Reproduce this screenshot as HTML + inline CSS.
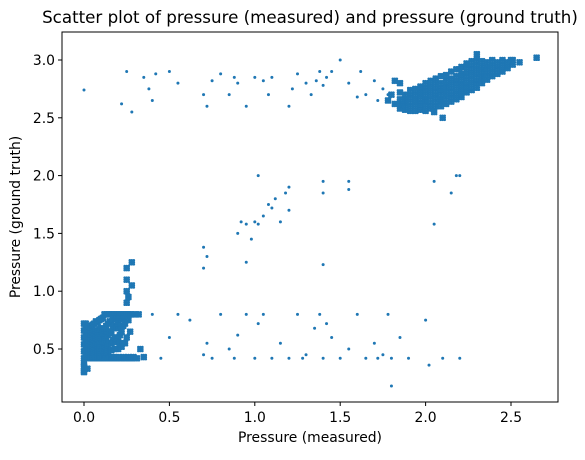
<!DOCTYPE html>
<html><head><meta charset="utf-8"><style>
body{margin:0;background:#fff;font-family:"Liberation Sans","DejaVu Sans",sans-serif}
</style></head><body>
<svg id="c" width="585" height="455" style="font-family:'DejaVu Sans','Liberation Sans',sans-serif"></svg>
<script>
const xTicks=[0,0.5,1,1.5,2,2.5];
const yTicks=[0.5,1.0,1.5,2.0,2.5,3.0];
const xTickLabels=["0.0","0.5","1.0","1.5","2.0","2.5"];
const yTickLabels=["0.5","1.0","1.5","2.0","2.5","3.0"];
const blobX=[0,0,0,0,0,0,0,0,0,0.01,0.01,0.01,0.01,0.01,0.01,0.01,0.02,0.02,0.02,0.02,0.02,0.02,0.03,0.03,0.03,0.03,0.03,0.03,0.04,0.04,0.04,0.04,0.04,0.04,0.05,0.05,0.05,0.05,0.05,0.05,0.06,0.06,0.06,0.06,0.06,0.06,0.07,0.07,0.07,0.07,0.07,0.07,0.08,0.08,0.08,0.08,0.08,0.08,0.09,0.09,0.09,0.09,0.09,0.09,0.1,0.1,0.1,0.1,0.1,0.1,0.11,0.11,0.11,0.11,0.11,0.12,0.12,0.12,0.12,0.12,0.13,0.13,0.13,0.13,0.13,0.14,0.14,0.14,0.14,0.14,0.15,0.15,0.15,0.15,0.15,0.16,0.16,0.16,0.16,0.16,0.17,0.17,0.17,0.17,0.18,0.18,0.18,0.18,0.19,0.19,0.19,0.19,0.2,0.2,0.2,0.2,0.21,0.21,0.21,0.22,0.22,0.22,0.23,0.23,0.23,0.24,0.24,0.25,0.25,0.26,0.26,0.27,0.27,0.28,0.28,0.29,0.3,0.31,0.32,0.25,0.25,0.25,0.25,0.25,0.28,0.28,0.26,0.33,0.35,0.02,0.0,0.12,0.14,0.16,0.18,0.2,0.22,0.24,0.17,0.19,0.21,0.23,0.2,0.22,0.24,0.26,0.21,0.25,0.27];
const blobY=[0.35,0.42,0.48,0.54,0.6,0.66,0.72,0.38,0.31,0.42,0.47,0.52,0.57,0.62,0.67,0.72,0.42,0.46,0.51,0.56,0.61,0.68,0.42,0.47,0.52,0.58,0.64,0.7,0.42,0.46,0.51,0.57,0.63,0.69,0.42,0.47,0.53,0.59,0.65,0.71,0.42,0.47,0.52,0.58,0.64,0.72,0.42,0.48,0.54,0.6,0.66,0.74,0.42,0.47,0.53,0.59,0.65,0.73,0.42,0.48,0.54,0.6,0.67,0.75,0.42,0.47,0.53,0.6,0.68,0.76,0.42,0.5,0.57,0.64,0.77,0.43,0.5,0.58,0.66,0.8,0.42,0.52,0.6,0.7,0.8,0.43,0.53,0.62,0.72,0.8,0.42,0.55,0.65,0.74,0.8,0.43,0.55,0.64,0.73,0.8,0.42,0.58,0.68,0.8,0.43,0.6,0.7,0.8,0.42,0.56,0.68,0.8,0.43,0.6,0.72,0.8,0.42,0.62,0.8,0.42,0.65,0.8,0.43,0.7,0.8,0.42,0.8,0.42,0.8,0.43,0.8,0.42,0.8,0.42,0.8,0.43,0.8,0.42,0.8,0.8,0.9,1.0,1.1,1.2,1.25,1.05,0.95,0.5,0.43,0.33,0.3,0.47,0.48,0.49,0.5,0.5,0.52,0.55,0.76,0.76,0.76,0.76,0.72,0.7,0.72,0.75,0.55,0.6,0.65];
const topX=[1.85,1.85,1.85,1.85,1.88,1.88,1.88,1.88,1.91,1.91,1.91,1.91,1.91,1.94,1.94,1.94,1.94,1.94,1.97,1.97,1.97,1.97,1.97,2.0,2.0,2.0,2.0,2.0,2.0,2.03,2.03,2.03,2.03,2.03,2.03,2.06,2.06,2.06,2.06,2.06,2.06,2.09,2.09,2.09,2.09,2.09,2.09,2.12,2.12,2.12,2.12,2.12,2.12,2.15,2.15,2.15,2.15,2.15,2.15,2.18,2.18,2.18,2.18,2.18,2.18,2.21,2.21,2.21,2.21,2.21,2.21,2.24,2.24,2.24,2.24,2.24,2.24,2.27,2.27,2.27,2.27,2.27,2.27,2.3,2.3,2.3,2.3,2.3,2.3,2.33,2.33,2.33,2.33,2.33,2.36,2.36,2.36,2.36,2.39,2.39,2.39,2.39,2.42,2.42,2.42,2.45,2.45,2.45,2.48,2.48,2.51,2.51,1.8,1.78,1.82,1.85,1.82,2.3,2.5,2.55,2.65,2.1,2.2,2.05];
const topY=[2.58,2.62,2.66,2.72,2.57,2.61,2.65,2.7,2.56,2.6,2.64,2.69,2.74,2.56,2.6,2.65,2.7,2.75,2.57,2.62,2.67,2.72,2.77,2.56,2.6,2.65,2.7,2.75,2.8,2.58,2.62,2.67,2.72,2.77,2.82,2.6,2.64,2.69,2.74,2.79,2.84,2.6,2.65,2.7,2.75,2.8,2.86,2.62,2.67,2.72,2.77,2.82,2.87,2.64,2.69,2.74,2.79,2.84,2.9,2.66,2.71,2.76,2.81,2.86,2.92,2.68,2.73,2.78,2.83,2.88,2.94,2.72,2.77,2.82,2.87,2.92,2.97,2.74,2.79,2.84,2.89,2.94,2.99,2.76,2.81,2.86,2.91,2.96,3.0,2.8,2.85,2.9,2.95,2.99,2.83,2.88,2.93,2.98,2.86,2.9,2.95,3.0,2.88,2.93,2.98,2.9,2.95,3.0,2.93,2.98,2.96,3.0,2.7,2.65,2.62,2.8,2.82,3.05,3.0,2.98,3.02,2.5,2.92,2.55];
const sparseX=[0,0.22,0.25,0.28,0.35,0.38,0.4,0.42,0.5,0.55,0.7,0.72,0.75,0.8,0.85,0.88,0.9,0.95,1.0,1.05,1.08,1.1,1.2,1.22,1.25,1.3,1.33,1.36,1.38,1.4,1.42,1.45,1.5,1.55,1.6,1.62,1.65,1.7,1.72,1.75,1.78,0.4,0.45,0.5,0.55,0.62,0.7,0.72,0.75,0.8,0.85,0.88,0.9,0.95,1.0,1.02,1.05,1.1,1.15,1.2,1.25,1.28,1.3,1.35,1.38,1.4,1.42,1.45,1.5,1.55,1.6,1.65,1.7,1.72,1.75,1.78,1.8,1.85,1.9,2.0,2.02,2.1,2.2,0.7,0.7,0.72,0.9,0.92,0.95,0.98,1.0,1.02,1.05,1.08,1.1,1.12,1.15,1.18,1.2,1.2,1.4,1.4,1.55,1.55,1.4,0.95,1.02,2.05,2.15,2.2,1.8,2.18,2.05];
const sparseY=[2.74,2.62,2.9,2.55,2.85,2.75,2.65,2.88,2.9,2.8,2.7,2.6,2.82,2.88,2.7,2.85,2.8,2.6,2.85,2.82,2.7,2.85,2.6,2.75,2.88,2.8,2.7,2.82,2.9,2.78,2.85,2.9,3.0,2.8,2.68,2.9,2.7,2.82,2.65,2.75,2.7,0.8,0.42,0.6,0.8,0.75,0.45,0.55,0.42,0.8,0.5,0.42,0.62,0.8,0.42,0.72,0.8,0.42,0.55,0.42,0.8,0.42,0.45,0.68,0.8,0.42,0.72,0.6,0.42,0.5,0.8,0.42,0.55,0.42,0.45,0.8,0.42,0.6,0.42,0.75,0.36,0.42,0.42,1.38,1.2,1.3,1.5,1.6,1.58,1.45,1.6,1.58,1.65,1.75,1.72,1.8,1.6,1.85,1.7,1.9,1.95,1.85,1.95,1.88,1.23,1.25,2.0,1.95,1.85,2.0,0.18,2.0,1.58];
const svg=document.getElementById('c');
const NS='http://www.w3.org/2000/svg';
const L=62,R=558,T=32,B=402;
const sx=v=>84+v*170.8;
const sy=v=>349-(v-0.5)*115.6;
function mk(t,a,p){const e=document.createElementNS(NS,t);for(const k in a)e.setAttribute(k,a[k]);(p||svg).appendChild(e);return e;}
const pts=mk('g',{fill:'#1f77b4'});


function draw(xs,ys,nm){for(let i=0;i<xs.length;i++){const c=mk('circle',{cx:sx(xs[i]),cy:sy(ys[i]),r:1.5},pts);
 if(nm!=='sparse-point'){for(const d of [[-2,0],[2,0],[0,-2],[0,2],[-2,-2],[2,2],[-2,2],[2,-2]]){const c2=mk('circle',{cx:sx(xs[i])+d[0],cy:sy(ys[i])+d[1],r:1.3},pts);}}}}
draw(blobX,blobY,'cluster-low-point');
draw(topX,topY,'cluster-high-point');
draw(sparseX,sparseY,'sparse-point');
const fr=mk('rect',{x:L,y:T,width:R-L,height:B-T,fill:'none',stroke:'#000','stroke-width':1});

xTicks.forEach((v,i)=>{mk('line',{x1:sx(v),x2:sx(v),y1:B,y2:B+4,stroke:'#000','stroke-width':1});
 const t=mk('text',{x:sx(v),y:B+20,'font-size':13.9,'text-anchor':'middle'});t.textContent=xTickLabels[i];
 });
yTicks.forEach((v,i)=>{mk('line',{x1:L-4,x2:L,y1:sy(v),y2:sy(v),stroke:'#000','stroke-width':1});
 const t=mk('text',{x:L-7,y:sy(v)+5,'font-size':13.9,'text-anchor':'end'});t.textContent=yTickLabels[i];
 });
let t=mk('text',{x:(L+R)/2,y:442,'font-size':13.9,'text-anchor':'middle'});t.textContent='Pressure (measured)';

t=mk('text',{x:20,y:(T+B)/2,'font-size':13.9,'text-anchor':'middle',transform:`rotate(-90 20 ${(T+B)/2})`});t.textContent='Pressure (ground truth)';

t=mk('text',{x:(L+R)/2,y:23,'font-size':16.7,'text-anchor':'middle'});t.textContent='Scatter plot of pressure (measured) and pressure (ground truth)';

</script>
</body></html>
